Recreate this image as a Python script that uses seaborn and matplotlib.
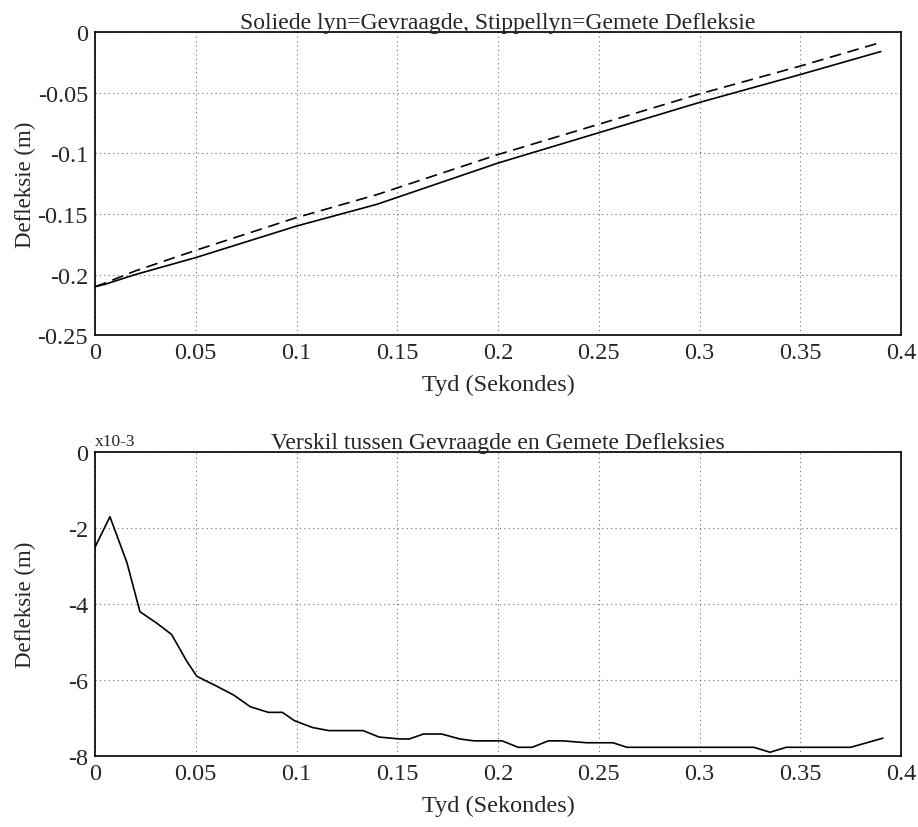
import matplotlib
matplotlib.use("Agg")
import matplotlib.pyplot as plt
import seaborn as sns
import pandas as pd

# ---- data ----
tyd_top = [0.0, 0.005, 0.02, 0.05, 0.1, 0.14, 0.2, 0.25, 0.3, 0.35, 0.39]
gevraagde = [-0.210, -0.208, -0.200, -0.186, -0.160, -0.142, -0.108, -0.083, -0.058, -0.035, -0.016]
gemete = [-0.210, -0.207, -0.197, -0.180, -0.153, -0.134, -0.101, -0.076, -0.051, -0.028, -0.0085]

tyd_bot = [0.0, 0.0, 0.0074, 0.0158, 0.0223, 0.0306, 0.038, 0.0455, 0.0505, 0.060, 0.069, 0.077,
           0.086, 0.093, 0.099, 0.108, 0.116, 0.133, 0.141, 0.151, 0.156, 0.163, 0.172,
           0.181, 0.188, 0.202, 0.210, 0.217, 0.225, 0.232, 0.244, 0.257, 0.264, 0.287,
           0.327, 0.335, 0.343, 0.353, 0.375, 0.391]
verskil = [-2.6, -2.4, -1.7, -2.9, -4.2, -4.5, -4.8, -5.5, -5.9, -6.15, -6.4, -6.7,
           -6.85, -6.85, -7.07, -7.25, -7.33, -7.33, -7.5, -7.55, -7.55, -7.42, -7.42,
           -7.55, -7.6, -7.6, -7.77, -7.77, -7.6, -7.6, -7.65, -7.65, -7.77, -7.77,
           -7.77, -7.9, -7.77, -7.77, -7.77, -7.53]

x_ticks = [0, 0.05, 0.1, 0.15, 0.2, 0.25, 0.3, 0.35, 0.4]
x_labels = ["0", "0.05", "0.1", "0.15", "0.2", "0.25", "0.3", "0.35", "0.4"]
top_yticks = [0, -0.05, -0.1, -0.15, -0.2, -0.25]
top_ylabels = ["0", "-0.05", "-0.1", "-0.15", "-0.2", "-0.25"]
bot_yticks = [0, -2, -4, -6, -8]
bot_ylabels = ["0", "-2", "-4", "-6", "-8"]

title_top = "Soliede lyn=Gevraagde, Stippellyn=Gemete Defleksie"
title_bot = "Verskil tussen Gevraagde en Gemete Defleksies"
xlabel = "Tyd (Sekondes)"
ylabel = "Defleksie (m)"

sns.set_theme(style="white")
plt.rcParams["font.family"] = ["Liberation Serif", "DejaVu Serif"]
FS = 17.5

fig = plt.figure(figsize=(9.18, 8.28), dpi=100)
ax1 = fig.add_axes([0.1035, 0.594, 0.878, 0.366])
ax2 = fig.add_axes([0.1035, 0.0857, 0.878, 0.367])

df_top = pd.DataFrame({"t": tyd_top, "g": gevraagde, "m": gemete})
sns.lineplot(data=df_top, x="t", y="g", ax=ax1, color="black", lw=1.2)
sns.lineplot(data=df_top, x="t", y="m", ax=ax1, color="black", lw=1.2)
ax1.lines[-1].set_dashes([7, 4])

df_bot = pd.DataFrame({"t": tyd_bot, "d": verskil})
sns.lineplot(data=df_bot, x="t", y="d", ax=ax2, color="black", lw=1.2, sort=False)

for ax, yt, yl, ylim, title in [
    (ax1, top_yticks, top_ylabels, (-0.25, 0), title_top),
    (ax2, bot_yticks, bot_ylabels, (-8, 0), title_bot),
]:
    ax.set_xlim(0, 0.4)
    ax.set_ylim(*ylim)
    ax.set_xticks(x_ticks)
    ax.set_xticklabels(x_labels, fontsize=FS)
    ax.set_yticks(yt)
    ax.set_yticklabels(yl, fontsize=FS)
    ax.grid(True, color="#333333", linestyle=(0, (1, 3)), linewidth=0.8, alpha=0.7)
    ax.tick_params(direction="in", length=4, color="black", pad=5)
    for s in ax.spines.values():
        s.set_color("black")
        s.set_linewidth(1.2)
    ax.set_xlabel(xlabel, fontsize=FS, labelpad=8)
    ax.set_ylabel(ylabel, fontsize=16.5)
    ax.yaxis.set_label_coords(-0.073, 0.5)
    ax.set_title(title, fontsize=17, pad=3)

ax2.text(0.0, 1.01, "x10-3", transform=ax2.transAxes, fontsize=12.5, va="bottom", ha="left")

fig.savefig("out.png", dpi=100)
